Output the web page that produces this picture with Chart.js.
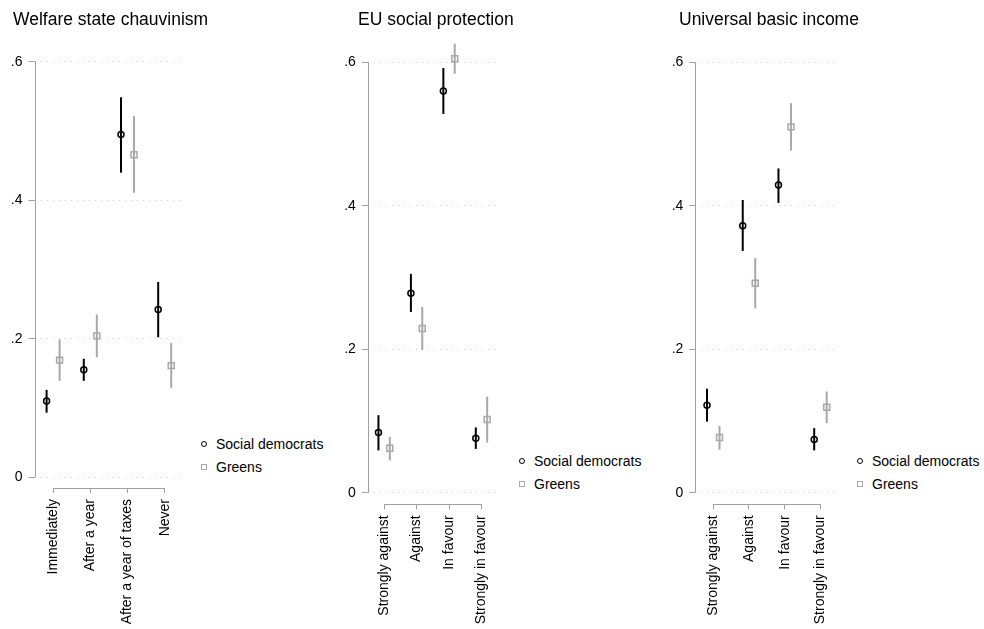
<!DOCTYPE html>
<html lang="en">
<head>
<meta charset="UTF-8" />
<title>Party support by policy preference</title>
<style>
  body {
    margin: 0;
    background: #ffffff;
    width: 984px;
    height: 629px;
    position: relative;
    overflow: hidden;
    font-family: "Liberation Sans", Arial, Helvetica, sans-serif;
    color: #000000;
  }
  canvas {
    position: absolute;
    top: 0;
  }
  .panel-title {
    position: absolute;
    top: 8.5px;
    font-size: 17.5px;
    line-height: 21px;
    white-space: nowrap;
  }
  .legend {
    position: absolute;
    font-size: 14px;
    white-space: nowrap;
  }
  .legend-item {
    display: flex;
    align-items: center;
    height: 23px;
  }
  .mark {
    box-sizing: border-box;
    width: 6px;
    height: 6px;
    margin: 0 9px 0 3px;
    border: 1.3px solid;
  }
  .mark.circle {
    border-radius: 50%;
  }
</style>
</head>
<body>
<canvas id="welfare" width="189" height="629" style="left: 0px"></canvas>
<canvas id="euProtection" width="170" height="629" style="left: 335px"></canvas>
<canvas id="basicIncome" width="184" height="629" style="left: 660px"></canvas>

<script src="https://cdn.jsdelivr.net/npm/chart.js"></script>
<script>
// y axis ticks shared by all three panels
var yTickValues = [0, 0.2, 0.4, 0.6];
var yTickLabels = ["0", ".2", ".4", ".6"];

var seriesNames = ["Social democrats", "Greens"];

// Welfare state chauvinism: when should immigrants get benefits
var welfareCategories = ["Immediately", "After a year", "After a year of taxes", "Never"];
var welfareSd = [0.110, 0.155, 0.495, 0.242];
var welfareSdLow = [0.093, 0.139, 0.440, 0.202];
var welfareSdHigh = [0.126, 0.171, 0.549, 0.282];
var welfareGreens = [0.169, 0.204, 0.466, 0.161];
var welfareGreensLow = [0.139, 0.173, 0.411, 0.129];
var welfareGreensHigh = [0.199, 0.235, 0.522, 0.194];

// EU social protection
var attitudeCategories = ["Strongly against", "Against", "In favour", "Strongly in favour"];
var euSd = [0.084, 0.278, 0.560, 0.076];
var euSdLow = [0.059, 0.252, 0.528, 0.061];
var euSdHigh = [0.108, 0.305, 0.592, 0.091];
var euGreens = [0.062, 0.229, 0.605, 0.102];
var euGreensLow = [0.045, 0.199, 0.584, 0.070];
var euGreensHigh = [0.078, 0.259, 0.626, 0.134];

// Universal basic income
var ubiSd = [0.122, 0.372, 0.429, 0.074];
var ubiSdLow = [0.099, 0.337, 0.404, 0.059];
var ubiSdHigh = [0.145, 0.408, 0.452, 0.090];
var ubiGreens = [0.077, 0.292, 0.510, 0.119];
var ubiGreensLow = [0.060, 0.257, 0.477, 0.097];
var ubiGreensHigh = [0.093, 0.327, 0.543, 0.141];

var sdColor = "#000000";
var greensColor = "#a8a8a8";
var axisColor = "#a0a0a0";
var gridColor = "#cfcfcf";
var dodge = 0.175;

Chart.defaults.font.family = '"Liberation Sans", Arial, Helvetica, sans-serif';
Chart.defaults.color = "#000000";

// vertical confidence interval lines, drawn under the markers
var ciBars = {
  id: "ciBars",
  beforeDatasetsDraw: function (chart) {
    var ctx = chart.ctx;
    var xs = chart.scales.x;
    var ys = chart.scales.y;
    chart.data.datasets.forEach(function (ds) {
      ctx.save();
      ctx.strokeStyle = ds.borderColor;
      ctx.lineWidth = 2;
      ds.data.forEach(function (p) {
        var px = xs.getPixelForValue(p.x);
        ctx.beginPath();
        ctx.moveTo(px, ys.getPixelForValue(p.low));
        ctx.lineTo(px, ys.getPixelForValue(p.high));
        ctx.stroke();
      });
      ctx.restore();
    });
  },
};

// axis lines only span the labelled range
var axisLines = {
  id: "axisLines",
  beforeDatasetsDraw: function (chart) {
    var ctx = chart.ctx;
    var xs = chart.scales.x;
    var ys = chart.scales.y;
    var area = chart.chartArea;
    var nCats = chart.data.categories.length;
    ctx.save();
    ctx.strokeStyle = axisColor;
    ctx.lineWidth = 1;
    ctx.beginPath();
    var ax = Math.round(area.left) + 0.5;
    ctx.moveTo(ax, ys.getPixelForValue(yTickValues[0]));
    ctx.lineTo(ax, ys.getPixelForValue(yTickValues[yTickValues.length - 1]));
    var ay = Math.round(area.bottom) + 0.5;
    ctx.moveTo(xs.getPixelForValue(1), ay);
    ctx.lineTo(xs.getPixelForValue(nCats), ay);
    ctx.stroke();
    ctx.restore();
  },
};

function points(est, low, high, shift) {
  return est.map(function (v, i) {
    return { x: i + 1 + shift, y: v, low: low[i], high: high[i] };
  });
}

// title and legend sit next to the canvas as plain text
function addTitle(text, left) {
  var el = document.createElement("div");
  el.className = "panel-title";
  el.style.left = left + "px";
  el.textContent = text;
  document.body.appendChild(el);
}

function addLegend(chart, left, top) {
  var box = document.createElement("div");
  box.className = "legend";
  box.style.left = left + "px";
  box.style.top = top + "px";
  chart.data.datasets.forEach(function (ds) {
    var item = document.createElement("div");
    item.className = "legend-item";
    var mark = document.createElement("span");
    mark.className = ds.pointStyle === "rect" ? "mark square" : "mark circle";
    mark.style.borderColor = ds.borderColor;
    var label = document.createElement("span");
    label.textContent = ds.label;
    item.appendChild(mark);
    item.appendChild(label);
    box.appendChild(item);
  });
  document.body.appendChild(box);
}

function makePanel(id, title, categories, sd, sdLow, sdHigh, gr, grLow, grHigh, frame) {
  var ctx = document.getElementById(id).getContext("2d");
  var chart = new Chart(ctx, {
    type: "scatter",
    data: {
      categories: categories,
      datasets: [
        {
          label: seriesNames[0],
          data: points(sd, sdLow, sdHigh, -dodge),
          pointStyle: "circle",
          pointRadius: 3,
          borderWidth: 1.5,
          borderColor: sdColor,
          backgroundColor: "rgba(0,0,0,0)",
          clip: false,
        },
        {
          label: seriesNames[1],
          data: points(gr, grLow, grHigh, dodge),
          pointStyle: "rect",
          pointRadius: 4.2,
          borderWidth: 1.5,
          borderColor: greensColor,
          backgroundColor: "rgba(0,0,0,0)",
          clip: false,
        },
      ],
    },
    options: {
      responsive: false,
      animation: false,
      events: [],
      layout: { padding: { left: 0, top: 40, right: 0, bottom: 0 } },
      scales: {
        x: {
          type: "linear",
          min: 0.5,
          max: categories.length + 0.5,
          afterBuildTicks: function (scale) {
            scale.ticks = categories.map(function (c, i) {
              return { value: i + 1 };
            });
          },
          afterFit: function (scale) {
            scale.height = frame.xHeight;
          },
          ticks: {
            autoSkip: false,
            minRotation: 90,
            maxRotation: 90,
            padding: 6,
            font: { size: 14 },
            color: "#000000",
            callback: function (value) {
              return categories[value - 1];
            },
          },
          grid: {
            drawOnChartArea: false,
            drawTicks: true,
            tickLength: 5,
            tickColor: axisColor,
          },
          border: { display: false },
        },
        y: {
          min: frame.yMin,
          max: frame.yMax,
          afterBuildTicks: function (scale) {
            scale.ticks = yTickValues.map(function (v) {
              return { value: v };
            });
          },
          afterFit: function (scale) {
            scale.width = frame.yWidth;
          },
          ticks: {
            padding: 6,
            font: { size: 14 },
            color: "#000000",
            callback: function (value) {
              return yTickLabels[yTickValues.indexOf(value)];
            },
          },
          grid: {
            color: gridColor,
            lineWidth: 1,
            tickLength: 6,
            tickColor: axisColor,
            tickBorderDash: [],
          },
          border: { display: false, dash: [1, 5] },
        },
      },
      plugins: {
        tooltip: { enabled: false },
        title: { display: false },
        legend: { display: false },
      },
    },
    plugins: [axisLines, ciBars],
  });
  addTitle(title, frame.titleX);
  addLegend(chart, frame.legendX, frame.legendY);
  return chart;
}

makePanel("welfare", "Welfare state chauvinism", welfareCategories,
  welfareSd, welfareSdLow, welfareSdHigh, welfareGreens, welfareGreensLow, welfareGreensHigh,
  { titleX: 13, yWidth: 34.5, xHeight: 141, yMin: -0.0159, yMax: 0.6318, legendX: 198, legendY: 432.5 });

makePanel("euProtection", "EU social protection", attitudeCategories,
  euSd, euSdLow, euSdHigh, euGreens, euGreensLow, euGreensHigh,
  { titleX: 358, yWidth: 32.9, xHeight: 124.7, yMin: -0.0162, yMax: 0.6311, legendX: 516, legendY: 449 });

makePanel("basicIncome", "Universal basic income", attitudeCategories,
  ubiSd, ubiSdLow, ubiSdHigh, ubiGreens, ubiGreensLow, ubiGreensHigh,
  { titleX: 679, yWidth: 35.4, xHeight: 124.7, yMin: -0.0162, yMax: 0.6311, legendX: 854, legendY: 449.5 });
</script>
</body>
</html>
